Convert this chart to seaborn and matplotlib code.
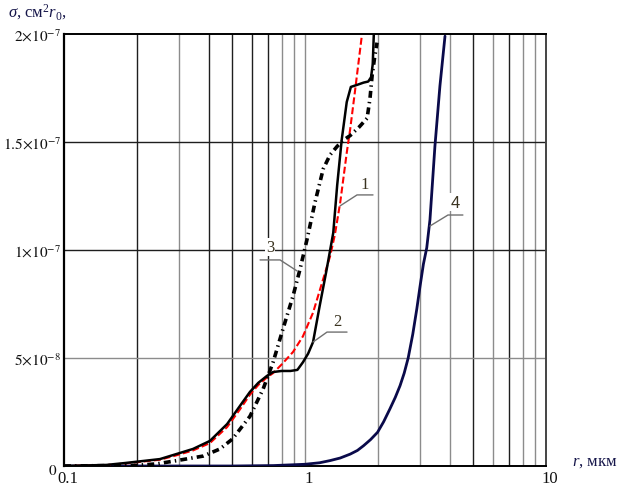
import numpy as np
import pandas as pd
import matplotlib
matplotlib.use("Agg")
import matplotlib.pyplot as plt
import matplotlib.transforms as mtransforms
import seaborn as sns

# ---- data (sigma in units of 1e-7 cm^2 r0, r in micrometres) ----
r1 = [0.10, 0.15, 0.18, 0.25, 0.294, 0.343, 0.403, 0.475, 0.537, 0.591, 0.64, 0.695,
      0.737, 0.80, 0.892, 0.98, 1.08, 1.19, 1.27, 1.33, 1.40, 1.49, 1.54, 1.61, 1.72]
s1 = [0.0, 0.004, 0.012, 0.029, 0.050, 0.072, 0.106, 0.180, 0.262, 0.330, 0.375, 0.410,
      0.430, 0.470, 0.528, 0.600, 0.710, 0.866, 0.970, 1.070, 1.220, 1.450, 1.560, 1.730, 1.990]

r2 = [0.10, 0.15, 0.18, 0.25, 0.294, 0.343, 0.403, 0.475, 0.537, 0.591, 0.64, 0.695,
      0.737, 0.80, 0.87, 0.93, 0.98, 1.03, 1.08, 1.15, 1.23, 1.31, 1.36, 1.42, 1.49,
      1.55, 1.65, 1.75, 1.83, 1.88, 1.91, 1.93]
s2 = [0.0, 0.005, 0.014, 0.032, 0.056, 0.079, 0.116, 0.194, 0.278, 0.343, 0.385, 0.417,
      0.435, 0.440, 0.440, 0.445, 0.480, 0.520, 0.574, 0.740, 0.910, 1.080, 1.300, 1.510, 1.685,
      1.755, 1.765, 1.775, 1.780, 1.800, 1.860, 2.000]

r3 = [0.10, 0.20, 0.243, 0.294, 0.378, 0.444, 0.50, 0.591, 0.67, 0.737, 0.81, 0.892,
      0.953, 1.02, 1.10, 1.19, 1.27, 1.36, 1.45, 1.54, 1.68, 1.81, 1.86, 1.90, 1.95, 1.99]
s3 = [0.0, 0.003, 0.010, 0.025, 0.046, 0.079, 0.125, 0.230, 0.356, 0.480, 0.634, 0.787,
      0.910, 1.050, 1.220, 1.375, 1.440, 1.480, 1.510, 1.530, 1.570, 1.610, 1.700, 1.810, 1.900, 1.960]

r4 = [0.10, 0.50, 0.74, 1.0, 1.15, 1.27, 1.40, 1.54, 1.65, 1.75, 1.87, 2.0, 2.12, 2.25,
      2.37, 2.48, 2.58, 2.68, 2.80, 2.91, 3.0, 3.10, 3.20, 3.30, 3.46, 3.63, 3.81]
s4 = [0.0, 0.0, 0.002, 0.008, 0.015, 0.025, 0.037, 0.055, 0.072, 0.094, 0.122, 0.156,
      0.205, 0.264, 0.318, 0.372, 0.430, 0.500, 0.610, 0.727, 0.830, 0.935, 1.010,
      1.140, 1.480, 1.760, 1.990]

curve_names = ["1", "2", "3", "4"]
x_ticks = [0.1, 1, 10]
x_tick_labels = ["0.1", "1", "10"]
y_ticks = [0, 0.5e-7, 1.0e-7, 1.5e-7, 2.0e-7]
y_tick_labels = [r"$0$", r"$5{\times}10^{-8}$", r"$1{\times}10^{-7}$",
                 r"$1.5{\times}10^{-7}$", r"$2{\times}10^{-7}$"]

# label anchor points (curve point, elbow, end, text) in data coords
lead1 = ([1.397, 1.644, 1.915], [1.204, 1.255, 1.255], (1.774, 1.306))
lead2 = ([1.08, 1.234, 1.494], [0.574, 0.620, 0.620], (1.358, 0.671))
lead3 = ([0.927, 0.788, 0.651], [0.903, 0.954, 0.954], (0.716, 1.014))
lead4 = ([3.30, 3.92, 4.52], [1.111, 1.162, 1.162], (4.19, 1.222))

sns.set_theme(style="white")
plt.rcParams["font.family"] = ["Liberation Serif", "DejaVu Serif"]
plt.rcParams["mathtext.fontset"] = "custom"
plt.rcParams["mathtext.rm"] = "Liberation Serif"
plt.rcParams["mathtext.it"] = "Liberation Serif:italic"
plt.rcParams["mathtext.bf"] = "Liberation Serif:bold"
plt.rcParams["lines.scale_dashes"] = False

frames = []
for name, rr, ss in zip(curve_names, [r1, r2, r3, r4], [s1, s2, s3, s4]):
    frames.append(pd.DataFrame({"r": rr, "sigma": np.array(ss) * 1e-7, "curve": name}))
df = pd.concat(frames, ignore_index=True)

fig = plt.figure(figsize=(6.2, 4.89), dpi=100)
ax = fig.add_axes([64 / 620, 22 / 489, 482 / 620, 432 / 489])
ax.set_xscale("log")
ax.set_xlim(0.1, 10)
ax.set_ylim(0, 2e-7)

# grid lines
dark, light = "#1e1e1e", "#8c8c8c"
light_first = (3, 8, 9)
light_second = (1, 2, 3, 4, 6, 8, 9)
for e, lightset in ((-1, light_first), (0, light_second)):
    for m in range(1 if e == 0 else 2, 10):
        ax.axvline(m * 10.0 ** e, color=light if m in lightset else dark, lw=1.0, zorder=1)
for gy, col in zip([0.5e-7, 1.0e-7, 1.5e-7], [light, dark, dark]):
    ax.axhline(gy, color=col, lw=1.0, zorder=1)

styles = {
    "1": dict(color="#ff0000", lw=1.5, dashes=(5, 2.2)),
    "2": dict(color="#000000", lw=1.8),
    "3": dict(color="#000000", lw=2.6, dashes=(5, 3, 1, 3)),
    "4": dict(color="#0a0a4a", lw=2.0),
}
order = ["4", "1", "2", "3"]
for name in order:
    sub = df[df["curve"] == name]
    st = dict(styles[name])
    dashes = st.pop("dashes", None)
    sns.lineplot(data=sub, x="r", y="sigma", ax=ax, sort=False,
                 estimator=None, legend=False, zorder=3, **st)
    if dashes is not None:
        ax.lines[-1].set_dashes(dashes)

# leader lines and labels
for (lx, ly, (tx, ty)), name in zip([lead1, lead2, lead3, lead4], curve_names):
    ax.plot(lx, np.array(ly) * 1e-7, color="#707070", lw=1.0, zorder=4)
    fam = ["Liberation Sans"] if name == "4" else ["Liberation Serif"]
    ax.text(tx, ty * 1e-7, name, ha="center", va="center", fontsize=12,
            family=fam, color="#3a3320", zorder=5,
            bbox=dict(facecolor="white", edgecolor="none", pad=1.0) if name in ("3", "4") else None)

ax.set_xticks(x_ticks)
ax.set_xticklabels(x_tick_labels)
ax.set_xticks([], minor=True)
ax.set_yticks(y_ticks)
ax.set_yticklabels(y_tick_labels)
ax.tick_params(axis="x", length=0, labelsize=12, colors="#111111", pad=3)
ax.tick_params(axis="y", length=0, labelsize=11, colors="#111111", pad=2)
for lab in ax.get_yticklabels():
    lab.set_math_fontfamily("stix")
ax.set_xlabel("")
ax.set_ylabel("")
ax.grid(False)

def px_shift(dx, dy):
    return mtransforms.ScaledTranslation(dx / 100, dy / 100, fig.dpi_scale_trans)

for lab in ax.get_xticklabels():
    lab.set_transform(lab.get_transform() + px_shift(4, 0))
lab0 = ax.get_yticklabels()[0]
lab0.set_transform(lab0.get_transform() + px_shift(-4, -3))

for side, col, lw in [("left", "#000000", 1.6), ("top", "#000000", 1.4),
                      ("right", "#444444", 1.4), ("bottom", "#000000", 1.4)]:
    ax.spines[side].set_visible(True)
    ax.spines[side].set_color(col)
    ax.spines[side].set_linewidth(lw)

fig.text(8 / 620, 1 - 17 / 489, r"$\sigma$, см$^{2}$$r_{0}$,", fontsize=12,
         color="#16164a", ha="left", va="baseline")
fig.text(572 / 620, 1 - 466 / 489, r"$r$, мкм", fontsize=12,
         color="#16164a", ha="left", va="baseline")

fig.savefig("out.png", dpi=100)
